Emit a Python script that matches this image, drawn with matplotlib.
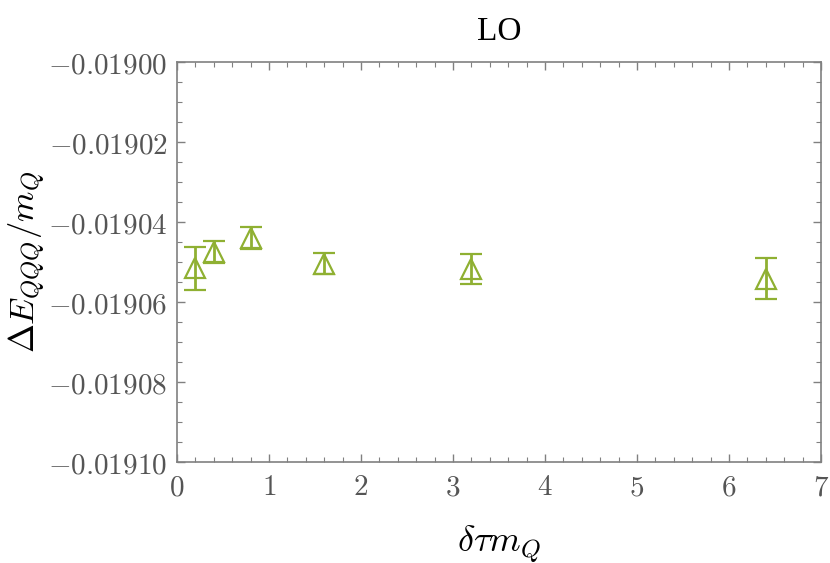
import numpy as np
import matplotlib.pyplot as plt
from matplotlib.ticker import MultipleLocator, FixedFormatter, FixedLocator

plt.rcParams['mathtext.fontset'] = 'cm'
plt.rcParams['font.family'] = 'serif'
plt.rcParams['font.serif'] = ['DejaVu Serif']

dt = [0.2, 0.4, 0.8, 1.6, 3.2, 6.4]
energy = [-0.0190516, -0.0190474, -0.0190441, -0.0190504, -0.0190518, -0.0190542]
err = [5.4e-6, 2.75e-6, 2.75e-6, 2.6e-6, 3.7e-6, 5.1e-6]

yticks = [-0.01910, -0.01908, -0.01906, -0.01904, -0.01902, -0.01900]
ytick_labels = [r'$-0.01910$', r'$-0.01908$', r'$-0.01906$',
                r'$-0.01904$', r'$-0.01902$', r'$-0.01900$']
xticks = [0, 1, 2, 3, 4, 5, 6, 7]

green = '#8fb032'
gray = '#808080'

fig = plt.figure(figsize=(8.3, 5.63), dpi=100)
ax = fig.add_axes([177/830, 1 - 462/563, 644/830, 400/563])

ax.errorbar(dt, energy, yerr=err, fmt='^', color=green, mfc='none', mec=green,
            ms=14, mew=1.6, elinewidth=2, capsize=8, capthick=2)

ax.set_xlim(0, 7)
ax.set_ylim(-0.01910, -0.01900)

ax.xaxis.set_major_locator(FixedLocator(xticks))
ax.xaxis.set_major_formatter(FixedFormatter([f'${v}$' for v in xticks]))
ax.xaxis.set_minor_locator(MultipleLocator(0.2))
ax.yaxis.set_major_locator(FixedLocator(yticks))
ax.yaxis.set_major_formatter(FixedFormatter(ytick_labels))
ax.yaxis.set_minor_locator(MultipleLocator(0.000005))

ax.tick_params(which='both', direction='in', top=True, right=True,
               color=gray, labelcolor='#555555', labelsize=21)
ax.tick_params(which='major', length=6, width=1)
ax.tick_params(which='minor', length=3.5, width=0.8)
ax.tick_params(axis='y', pad=7)
ax.tick_params(axis='x', pad=8)
for s in ax.spines.values():
    s.set_color(gray)
    s.set_linewidth(1.2)

ax.set_title('LO', fontsize=24, pad=16, fontfamily='Liberation Serif')
ax.set_xlabel(r'$\delta\tau m_Q$', fontsize=26, labelpad=16)
ax.set_ylabel(r'$\Delta E_{QQQ}/m_Q$', fontsize=25)
ax.yaxis.set_label_coords(-0.20, 0.5)

fig.savefig('out.png', dpi=100)
